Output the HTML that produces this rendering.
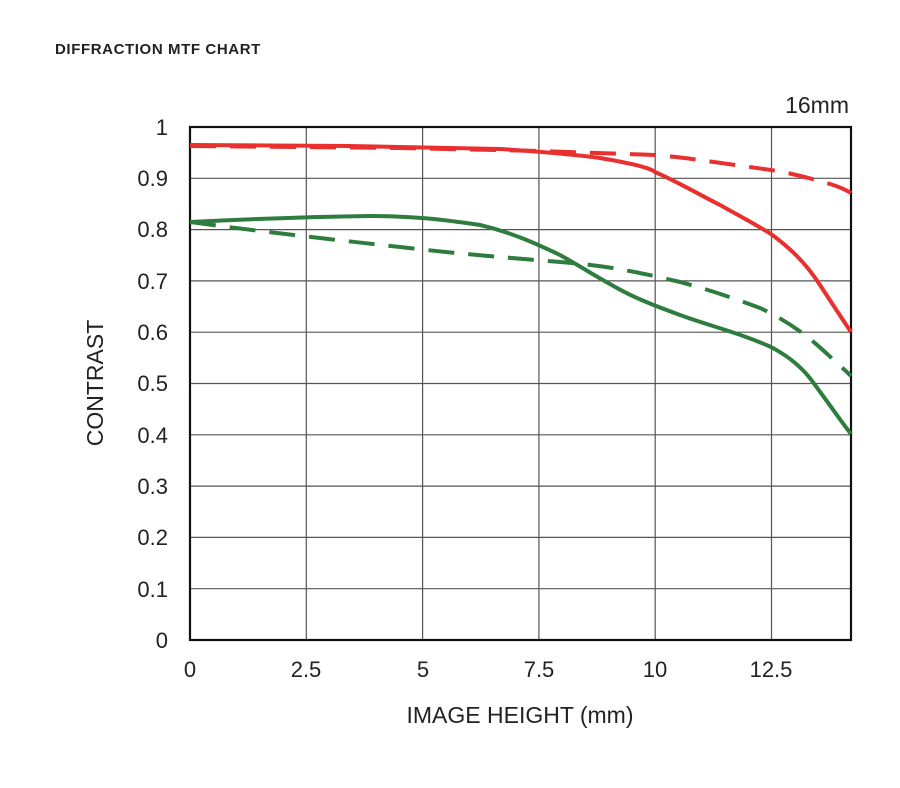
<!DOCTYPE html>
<html><head><meta charset="utf-8"><style>
body{margin:0;background:#fff;}
svg{display:block;font-family:"Liberation Sans",sans-serif;}
</style></head><body>
<svg width="900" height="788" viewBox="0 0 900 788">
<text x="55" y="54" font-size="15" font-weight="bold" fill="#222" letter-spacing="0.6">DIFFRACTION MTF CHART</text>
<text x="849" y="113" font-size="23" text-anchor="end" fill="#222">16mm</text>
<g stroke="#555" stroke-width="1.2">
<line x1="190" y1="178.3" x2="851" y2="178.3"/><line x1="190" y1="229.6" x2="851" y2="229.6"/>
<line x1="190" y1="280.9" x2="851" y2="280.9"/><line x1="190" y1="332.2" x2="851" y2="332.2"/>
<line x1="190" y1="383.5" x2="851" y2="383.5"/><line x1="190" y1="434.8" x2="851" y2="434.8"/>
<line x1="190" y1="486.1" x2="851" y2="486.1"/><line x1="190" y1="537.4" x2="851" y2="537.4"/>
<line x1="190" y1="588.7" x2="851" y2="588.7"/>
<line x1="306.3" y1="127" x2="306.3" y2="640"/><line x1="422.6" y1="127" x2="422.6" y2="640"/>
<line x1="538.9" y1="127" x2="538.9" y2="640"/><line x1="655.2" y1="127" x2="655.2" y2="640"/>
<line x1="771.5" y1="127" x2="771.5" y2="640"/>
</g>
<rect x="190" y="127" width="661" height="513" fill="none" stroke="#111" stroke-width="2.2"/>
<g font-size="22" fill="#222" text-anchor="end">
<text x="168" y="135">1</text><text x="168" y="186">0.9</text><text x="168" y="237">0.8</text>
<text x="168" y="289">0.7</text><text x="168" y="340">0.6</text><text x="168" y="391">0.5</text>
<text x="168" y="443">0.4</text><text x="168" y="494">0.3</text><text x="168" y="545">0.2</text>
<text x="168" y="597">0.1</text><text x="168" y="648">0</text>
</g>
<g font-size="22" fill="#222" text-anchor="middle">
<text x="190" y="677">0</text><text x="306" y="677">2.5</text><text x="423" y="677">5</text>
<text x="539" y="677">7.5</text><text x="655" y="677">10</text><text x="771" y="677">12.5</text>
<text x="520" y="723" font-size="23">IMAGE HEIGHT (mm)</text>
</g>
<text transform="translate(103,383) rotate(-90)" font-size="23" fill="#222" text-anchor="middle">CONTRAST</text>
<g fill="none" stroke-width="4" stroke-linecap="butt">
<path stroke="#e8302f" d="M190,145 L350,146 L500,149 C530,151 570,154 600,158 C630,163 650,168 655,172 C680,183 700,195 720,205 C740,216 755,224 771,234 C790,248 805,262 820,285 C833,305 843,320 851,332"/>
<path stroke="#e8302f" stroke-dasharray="26,14" d="M190,146 L400,148 L540,151 L655,155 C690,158 720,163 771,170 C790,173 810,178 830,184 C840,187 846,190 851,193"/>
<path stroke="#2e7d3e" d="M190,222 C250,219 300,217 370,216 C410,216 440,219 480,225 C510,232 535,243 560,255 C580,266 595,276 610,284 C630,296 650,304 680,315 C710,326 740,333 771,347 C790,357 805,370 815,385 C830,405 840,420 851,434"/>
<path stroke="#2e7d3e" stroke-dasharray="26,14" d="M190,222 C250,230 300,236 400,247 C460,254 500,257 560,262 C600,265 630,270 680,282 C710,290 730,297 760,308 C790,322 810,338 825,352 C838,364 845,370 851,376"/>
</g>
</svg>
</body></html>
